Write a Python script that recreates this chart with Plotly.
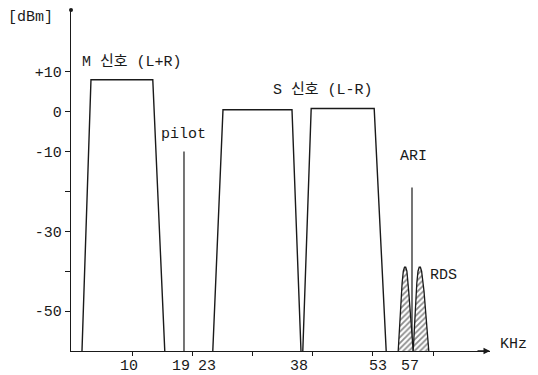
import plotly.graph_objects as go

# ---- data (kHz, dBm) ----
m_band_x = [1.5, 3.0, 13.3, 15.3]
m_band_y = [-60, 8, 8, -60]
s_low_x = [23.3, 25.0, 36.5, 38.0]
s_low_y = [-60, 0.5, 0.5, -60]
s_up_x = [38.3, 39.7, 50.2, 52.2]
s_up_y = [-60, 0.8, 0.8, -60]
pilot_x = [18.5, 18.5]
pilot_y = [-60, -10]
ari_x = [56.5, 56.5]
ari_y = [-60, -19]
rds1_x = [54.2, 54.55, 54.85, 55.05, 55.25, 55.45, 55.65, 55.95, 56.3, 56.7]
rds1_y = [-60, -50, -43, -40, -39, -39, -40, -45, -52, -60]
rds2_x = [56.7, 57.0, 57.3, 57.5, 57.7, 57.9, 58.1, 58.5, 58.9, 59.3]
rds2_y = [-60, -50, -43, -40, -39, -39, -40, -45, -52, -60]

y_tick_vals = [10, 0, -10, -20, -30, -40, -50]
y_tick_text = ["+10", "0", "-10", "", "-30", "", "-50"]
x_minor_ticks = [10, 20, 30, 40, 50, 60]
x_label_text = ["10", "19", "23", "38", "53", "57"]
x_label_pos = [9.4, 18.0, 22.4, 37.7, 50.8, 56.2]

FONT = "Liberation Mono, Noto Sans CJK KR, monospace"
INK = "#1a1a1a"

fig = go.Figure()

def outline(xs, ys, w=1.4):
    fig.add_trace(go.Scatter(x=xs, y=ys, mode="lines",
                             line=dict(color=INK, width=w),
                             hoverinfo="skip", showlegend=False))

outline(m_band_x, m_band_y)
outline(s_low_x, s_low_y)
outline(s_up_x, s_up_y)
outline(pilot_x, pilot_y, 1.2)
outline(ari_x, ari_y, 1.2)

for xs, ys in [(rds1_x, rds1_y), (rds2_x, rds2_y)]:
    fig.add_trace(go.Scatter(x=xs, y=ys, mode="lines", fill="toself",
                             fillcolor="white",
                             fillpattern=dict(shape="/", fgcolor=INK, bgcolor="white",
                                              size=4, solidity=0.45),
                             line=dict(color=INK, width=1.3),
                             hoverinfo="skip", showlegend=False))

# dot at top of the y axis
fig.add_trace(go.Scatter(x=[-0.33], y=[25.5], mode="markers",
                         marker=dict(color=INK, size=4), cliponaxis=False,
                         hoverinfo="skip", showlegend=False))

ann = []
def label(text, x, y, size=15, **kw):
    ann.append(dict(text=text, x=x, y=y, xref="x", yref="y", showarrow=False,
                    font=dict(family=FONT, size=size, color=INK), **kw))

def plabel(text, x, y, size=15):
    ann.append(dict(text=text, x=x, y=y, xref="paper", yref="paper", showarrow=False,
                    xanchor="center", yanchor="middle",
                    font=dict(family=FONT, size=size, color=INK)))

plabel("[dBm]", -0.0955, 0.977)
plabel("KHz", 1.055, 0.0205)
label("M 신호 (L+R)", 9.8, 12.5)
label("pilot", 18.5, -5.75)
label("S 신호 (L-R)", 41.7, 5.5)
label("ARI", 56.7, -11.3)
label("RDS", 61.7, -41)
for t, p in zip(x_label_text, x_label_pos):
    ann.append(dict(text=t, x=p, y=-60, xref="x", yref="y", yshift=-15,
                    showarrow=False, font=dict(family=FONT, size=15, color=INK)))
# arrow head at end of x axis
ann.append(dict(x=69.5, y=-60, xref="x", yref="y", ax=-14, ay=0, text="",
                showarrow=True, arrowhead=2, arrowsize=1, arrowwidth=1.3,
                arrowcolor=INK))

# the page body adds an 8px offset, so the figure covers the reference from (8, 8)
fig.update_layout(
    width=530, height=367,
    margin=dict(l=63, r=48, t=2, b=24),
    paper_bgcolor="white", plot_bgcolor="white",
    annotations=ann,
    xaxis=dict(range=[-0.33, 69.5], showgrid=False, zeroline=False,
               showline=True, linecolor=INK, linewidth=1.3,
               tickvals=x_minor_ticks, ticktext=[""] * len(x_minor_ticks),
               ticks="outside", ticklen=4, tickcolor=INK),
    yaxis=dict(range=[-60, 25.5], showgrid=False, zeroline=False,
               showline=True, linecolor=INK, linewidth=1.3,
               tickvals=y_tick_vals, ticktext=y_tick_text,
               ticks="outside", ticklen=5, tickcolor=INK,
               tickfont=dict(family=FONT, size=15, color=INK)),
)

fig.write_html("out.html")
